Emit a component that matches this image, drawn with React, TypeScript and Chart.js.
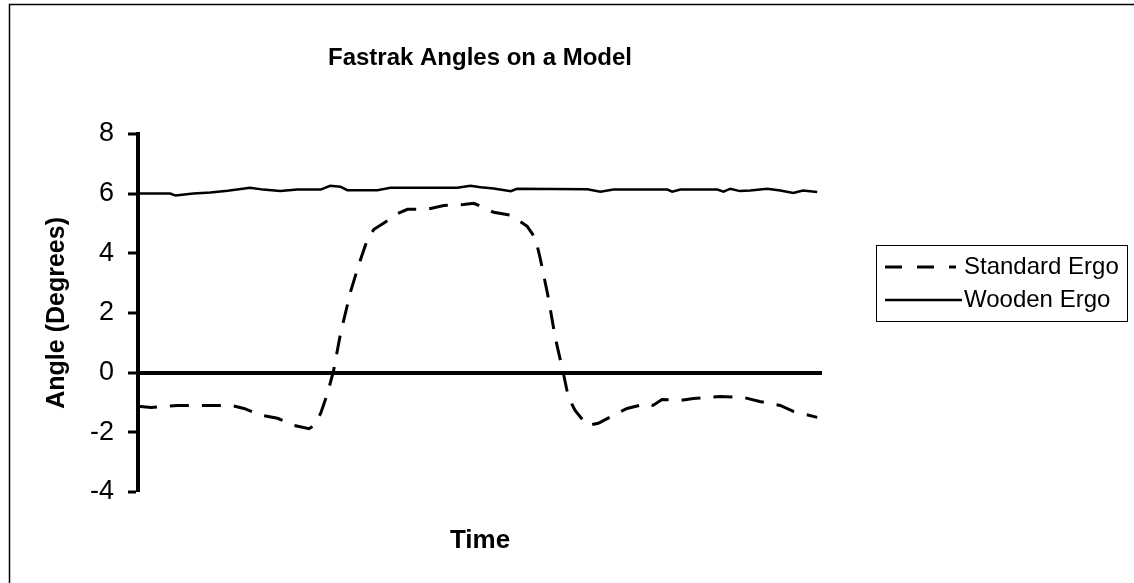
import React, { useEffect, useRef } from "react";
import { Chart, registerables } from "chart.js";

Chart.register(...registerables);

const TITLE = "Fastrak Angles on a Model";
const Y_TITLE = "Angle (Degrees)";
const X_TITLE = "Time";
const Y_TICKS = [-4, -2, 0, 2, 4, 6, 8];

const standardTime = [0, 1.9, 5.8, 8.2, 10.7, 13.6, 15.5, 18.0, 20.4, 22.8, 25.0, 25.7, 26.7, 27.7, 28.6, 29.6, 31.1, 32.3, 33.6, 34.5, 35.9, 38.0, 39.4, 40.9, 42.8, 44.7, 47.6, 49.1, 50.1, 52.0, 54.5, 56.9, 58.1, 58.8, 60.0, 61.0, 62.2, 62.9, 63.9, 65.7, 67.3, 69.5, 71.5, 74.5, 75.3, 76.6, 79.3, 81.2, 85.1, 88.5, 90.9, 93.9, 95.8, 99.3];
const standardAngle = [-1.13, -1.17, -1.1, -1.1, -1.1, -1.1, -1.2, -1.43, -1.53, -1.77, -1.88, -1.78, -1.37, -0.7, 0.07, 1.3, 2.73, 3.63, 4.5, 4.8, 5.0, 5.33, 5.47, 5.47, 5.5, 5.6, 5.63, 5.67, 5.57, 5.37, 5.27, 4.9, 4.5, 3.83, 2.5, 1.17, -0.03, -0.8, -1.27, -1.77, -1.7, -1.43, -1.2, -1.03, -1.1, -0.9, -0.93, -0.87, -0.8, -0.83, -0.97, -1.1, -1.3, -1.5];

const woodenTime = [0, 4.7, 5.5, 8.1, 10.6, 13.1, 16.4, 18.3, 20.8, 23.3, 26.7, 28.1, 29.6, 30.6, 35.0, 36.9, 46.7, 48.6, 50.1, 52.0, 54.5, 55.4, 65.7, 67.6, 69.5, 77.4, 78.1, 79.3, 84.7, 85.6, 86.6, 88.0, 89.5, 92.0, 93.9, 95.8, 97.2, 99.3];
const woodenAngle = [6.0, 6.0, 5.93, 6.0, 6.03, 6.09, 6.19, 6.13, 6.08, 6.13, 6.13, 6.26, 6.23, 6.11, 6.11, 6.19, 6.19, 6.26, 6.21, 6.17, 6.08, 6.16, 6.14, 6.06, 6.13, 6.13, 6.06, 6.13, 6.13, 6.06, 6.16, 6.08, 6.1, 6.16, 6.1, 6.02, 6.1, 6.05];

const FONT = "'Liberation Sans', Arial, Helvetica, sans-serif";

const frameAndLegend = {
  id: "frameAndLegend",
  afterDraw(chart: any) {
    const ctx = chart.ctx;
    ctx.save();
    // outer frame (top and left edges visible)
    ctx.strokeStyle = "#000";
    ctx.lineWidth = 1.5;
    ctx.setLineDash([]);
    ctx.beginPath();
    ctx.moveTo(9.5, 600);
    ctx.lineTo(9.5, 4.5);
    ctx.lineTo(1140, 4.5);
    ctx.stroke();

    // legend box
    const bx = 876.5, by = 245.5, bw = 251, bh = 76;
    ctx.lineWidth = 1;
    ctx.strokeRect(bx, by, bw, bh);
    const rows = [267, 300];
    chart.data.datasets.forEach((ds: any, i: number) => {
      const y = rows[i];
      const dashed = ds.borderDash && ds.borderDash.length > 0;
      ctx.beginPath();
      ctx.setLineDash(dashed ? [17, 15] : []);
      ctx.lineWidth = ds.borderWidth;
      ctx.strokeStyle = ds.borderColor;
      ctx.moveTo(885, y);
      ctx.lineTo(dashed ? 956 : 962, y);
      ctx.stroke();
      ctx.setLineDash([]);
      ctx.fillStyle = "#000";
      ctx.font = `24px ${FONT}`;
      ctx.textAlign = "left";
      ctx.textBaseline = "middle";
      ctx.fillText(ds.label, 964, y);
    });
    ctx.restore();
  },
};

export default function App() {
  const ref = useRef<HTMLCanvasElement | null>(null);

  useEffect(() => {
    if (!ref.current) return;
    const chart = new Chart(ref.current, {
      type: "line",
      data: {
        datasets: [
          {
            label: "Standard Ergo",
            data: standardTime.map((t, i) => ({ x: t, y: standardAngle[i] })),
            borderColor: "#000",
            borderWidth: 3,
            borderDash: [19, 13],
            pointRadius: 0,
            tension: 0,
            fill: false,
          },
          {
            label: "Wooden Ergo",
            data: woodenTime.map((t, i) => ({ x: t, y: woodenAngle[i] })),
            borderColor: "#000",
            borderWidth: 2.5,
            pointRadius: 0,
            tension: 0,
            fill: false,
          },
        ],
      },
      options: {
        responsive: false,
        animation: false,
        devicePixelRatio: 1,
        layout: { padding: { left: 0, top: 0, right: 312, bottom: 0 } },
        plugins: {
          legend: { display: false },
          tooltip: { enabled: false },
          title: {
            display: true,
            text: TITLE,
            fullSize: false,
            color: "#000",
            font: { family: FONT, size: 24, weight: "bold" },
            padding: { top: 44, bottom: 61 },
          },
        },
        scales: {
          x: {
            type: "linear",
            min: 0,
            max: 100,
            ticks: { display: false },
            grid: { display: false },
            border: { display: false },
            title: {
              display: true,
              text: X_TITLE,
              color: "#000",
              font: { family: FONT, size: 26, weight: "bold" },
              padding: { top: 0, bottom: 27 },
            },
            afterFit(scale: any) {
              scale.height = 91;
            },
          },
          y: {
            min: -4,
            max: 8,
            afterBuildTicks(scale: any) {
              scale.ticks = Y_TICKS.map((v) => ({ value: v }));
            },
            ticks: {
              color: "#000",
              padding: 14,
              font: { family: FONT, size: 27 },
            },
            grid: {
              drawOnChartArea: true,
              drawTicks: true,
              tickLength: 10,
              tickColor: "#000",
              tickWidth: 3,
              color: (c: any) => (c.tick && c.tick.value === 0 ? "#000" : "rgba(0,0,0,0)"),
              lineWidth: (c: any) => (c.tick && c.tick.value === 0 ? 4 : 0),
            },
            border: { display: true, color: "#000", width: 4 },
            title: {
              display: true,
              text: Y_TITLE,
              color: "#000",
              font: { family: FONT, size: 25, weight: "bold" },
              padding: { top: 42, bottom: 0 },
            },
            afterFit(scale: any) {
              scale.width = 138;
            },
          },
        },
      },
      plugins: [frameAndLegend],
    });
    return () => chart.destroy();
  }, []);

  return (
    <div style={{ position: "absolute", left: 0, top: 0, width: 1134, height: 583, background: "#fff" }}>
      <canvas ref={ref} width={1134} height={583} style={{ display: "block" }} />
    </div>
  );
}
